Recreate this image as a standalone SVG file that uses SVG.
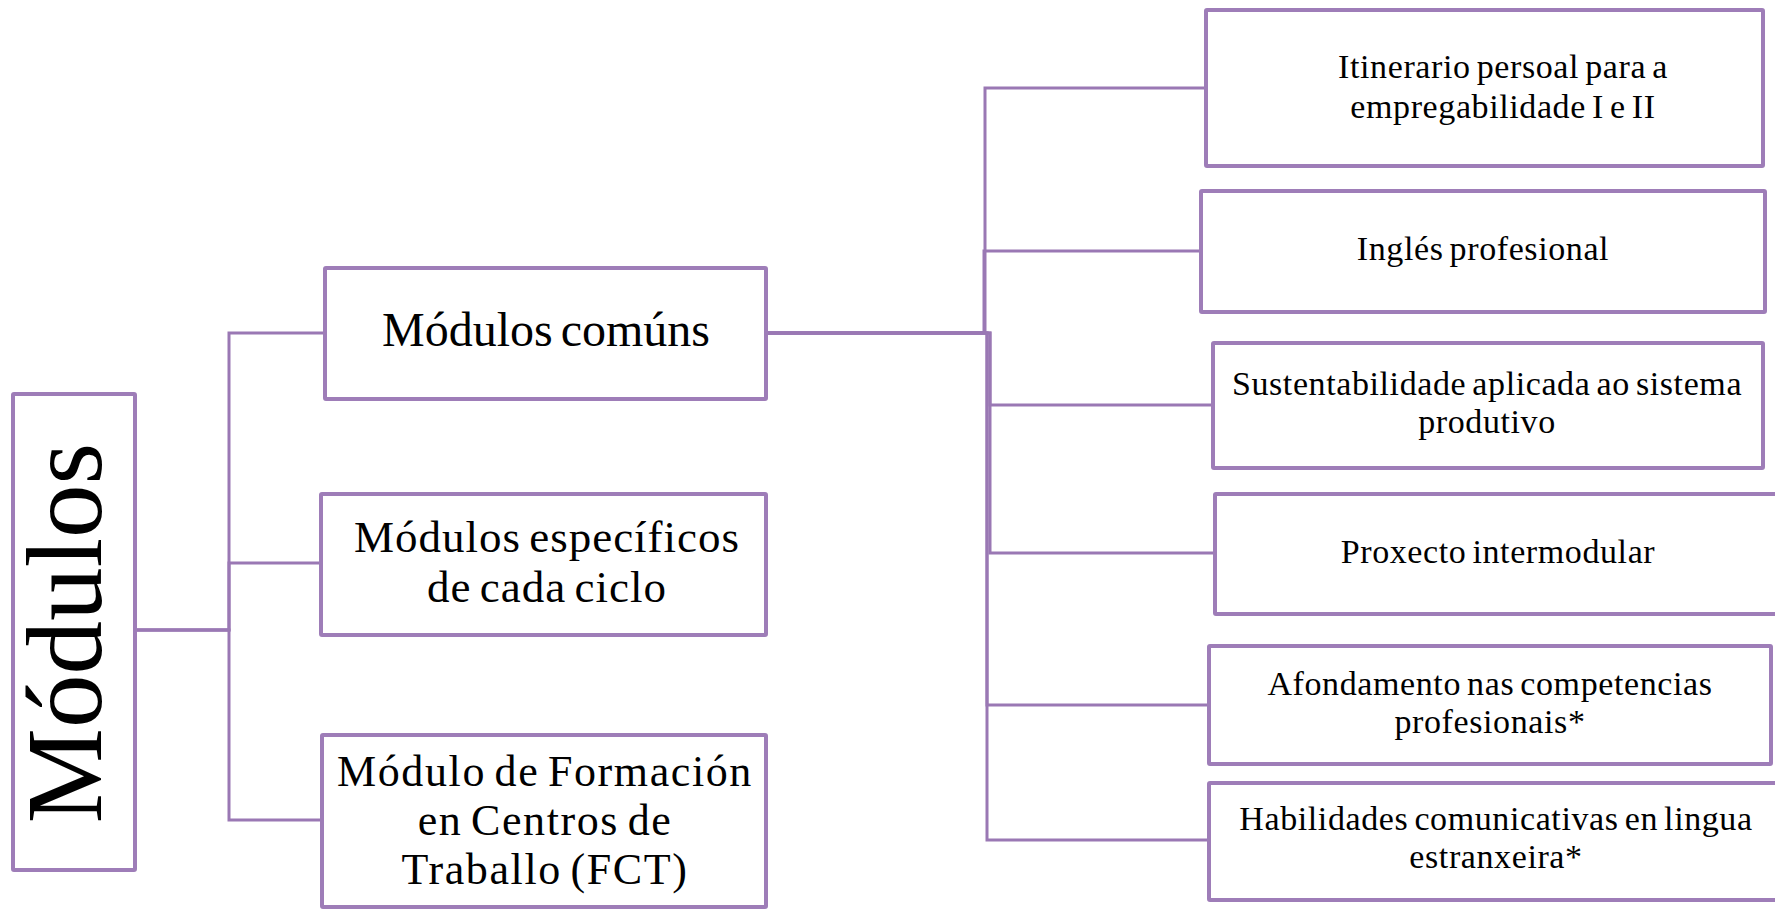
<svg xmlns="http://www.w3.org/2000/svg" width="1775" height="910" viewBox="0 0 1775 910">
<style>
.box{fill:#ffffff;stroke:#9e7db8;stroke-width:4;}
.conn{fill:none;stroke:#9a78b4;stroke-width:3;}
text{font-family:"Liberation Serif","DejaVu Serif",serif;fill:#000;text-anchor:middle;}
.l{font-size:48px;word-spacing:-4px;}
.l2{font-size:45px;word-spacing:-4px;letter-spacing:1px;}
.l3{font-size:44px;word-spacing:-4px;letter-spacing:1.6px;}
.r{font-size:34px;word-spacing:-3px;letter-spacing:0.6px;}
</style>
<rect width="1775" height="910" fill="#ffffff"/>
<g id="connectors">
<path class="conn" d="M135 630 H229 V333 H325"/>
<path class="conn" d="M135 630 H229 V563 H321"/>
<path class="conn" d="M135 630 H229 V820 H322"/>
<path class="conn" d="M766 333 H985 V88 H1206"/>
<path class="conn" d="M766 333 H984 V251 H1201"/>
<path class="conn" d="M766 333 H990 V405 H1213"/>
<path class="conn" d="M766 333 H990 V553 H1215"/>
<path class="conn" d="M766 333 H987 V705 H1209"/>
<path class="conn" d="M766 333 H987 V840 H1209"/>
</g>
<g id="modulos">
<rect class="box" x="13" y="394" width="122" height="476" rx="1"/>
<text transform="translate(101,633) rotate(-90)" font-size="107">Módulos</text>
</g>
<g id="comuns">
<rect class="box" x="325" y="268" width="441" height="131" rx="1"/>
<text class="l" x="546" y="346">Módulos comúns</text>
</g>
<g id="especificos">
<rect class="box" x="321" y="494" width="445" height="141" rx="1"/>
<text class="l2" x="547" y="552">Módulos específicos</text>
<text class="l2" x="547" y="602">de cada ciclo</text>
</g>
<g id="fct">
<rect class="box" x="322" y="735" width="444" height="172" rx="1"/>
<text class="l3" x="545" y="786">Módulo de Formación</text>
<text class="l3" x="545" y="835">en Centros de</text>
<text class="l3" x="545" y="884">Traballo (FCT)</text>
</g>
<g id="itinerario">
<rect class="box" x="1206" y="10" width="557" height="156" rx="1"/>
<text class="r" x="1503" y="78">Itinerario persoal para a</text>
<text class="r" x="1503" y="118">empregabilidade I e II</text>
</g>
<g id="ingles">
<rect class="box" x="1201" y="191" width="564" height="121" rx="1"/>
<text class="r" x="1483" y="260">Inglés profesional</text>
</g>
<g id="sustentabilidade">
<rect class="box" x="1213" y="343" width="550" height="125" rx="1"/>
<text class="r" x="1487" y="395">Sustentabilidade aplicada ao sistema</text>
<text class="r" x="1487" y="433">produtivo</text>
</g>
<g id="proxecto">
<rect class="box" x="1215" y="494" width="580" height="120" rx="1"/>
<text class="r" x="1498" y="563">Proxecto intermodular</text>
</g>
<g id="afondamento">
<rect class="box" x="1209" y="646" width="562" height="118" rx="1"/>
<text class="r" x="1490" y="695">Afondamento nas competencias</text>
<text class="r" x="1490" y="733">profesionais*</text>
</g>
<g id="habilidades">
<rect class="box" x="1209" y="783" width="586" height="117" rx="1"/>
<text class="r" x="1496" y="830">Habilidades comunicativas en lingua</text>
<text class="r" x="1496" y="868">estranxeira*</text>
</g>
</svg>
